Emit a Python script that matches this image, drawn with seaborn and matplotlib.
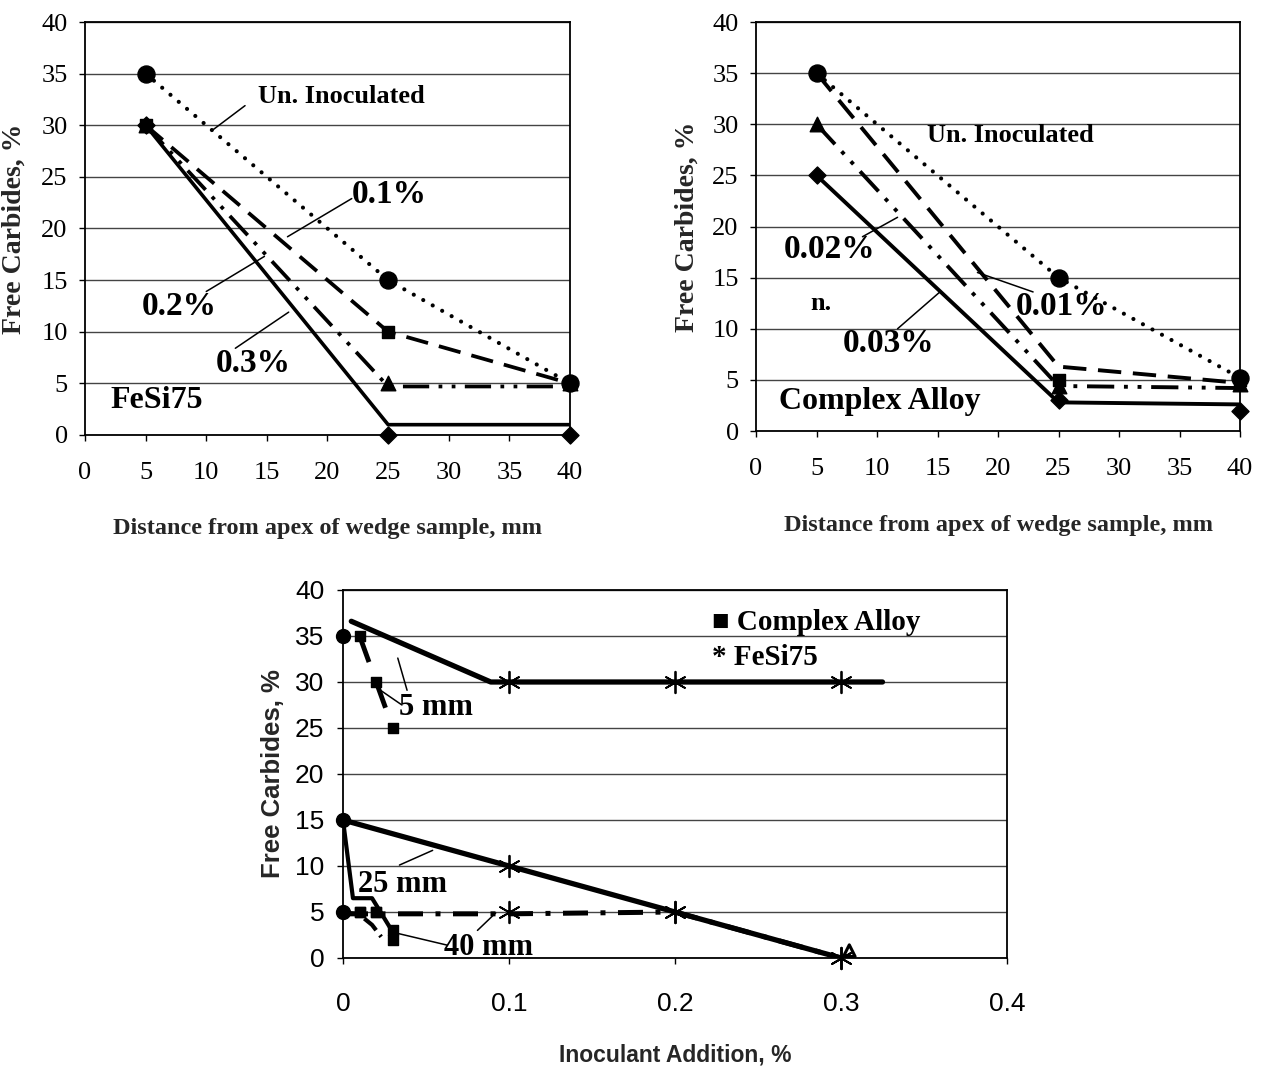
#!/usr/bin/env python3
# Free carbides vs wedge distance / inoculant addition (FeSi75 and Complex Alloy)

import matplotlib
matplotlib.use("Agg")
import matplotlib.pyplot as plt
from matplotlib import font_manager
import seaborn as sns

#---------------------------------------------------------
# DATA
#---------------------------------------------------------
dist_mm = [5, 25, 40]
dist_ticks = list(range(0, 41, 5))
carb_ticks = list(range(0, 41, 5))

# FeSi75 panel (markers / drawn lines)
fesi_uninoc = [35, 15, 5]
fesi_01 = [30, 10, 5]
fesi_02 = [30, 5, 5]
fesi_02_line = [30, 4.7, 4.7]
fesi_03 = [30, 0, 0]
fesi_03_line = [30, 1, 1]

# Complex Alloy panel
cx_uninoc = [35, 15, 5.2]
cx_001 = [35, 5, 5]
cx_001_line = [35, 6.3, 4.7]
cx_002 = [30, 4.4, 4.6]
cx_002_line = [30, 4.4, 4.2]
cx_003 = [25, 3, 2]
cx_003_line = [25, 2.8, 2.6]

# lower panel: carbides vs addition
add_ticks = [0, 0.1, 0.2, 0.3, 0.4]
add_zero = [0, 0, 0]
uninoc_by_dist = [35, 15, 5]
add_cx = [0.01, 0.02, 0.03]
cx_5mm = [35, 30, 25]
cx_25mm = [5, 5, 3]
cx_40mm = [5, 5, 2]
add_fesi = [0.1, 0.2, 0.3]
fesi_5mm = [30, 30, 30]
fesi_25mm = [10, 5, 0]
fesi_40mm = [5, 5, 0]

# curves as drawn in the lower panel
trend5_x = [0.005, 0.089, 0.325]
trend5_y = [36.6, 30, 30]
cx5_x = [0.01, 0.02, 0.03]
cx5_y = [35, 30, 25]
fesi25_x = [0, 0.1, 0.2, 0.3]
fesi25_y = [15, 10, 5, 0]
cx25_x = [0, 0.006, 0.0175, 0.028]
cx25_y = [15, 6.5, 6.5, 3.4]
fesi40_x = [0, 0.1, 0.2, 0.3]
fesi40_y = [4.8, 4.8, 5, 0]
cx40_x = [0, 0.01, 0.0175, 0.023]
cx40_y = [5, 4.7, 3.6, 2.3]
stray_x = [0.305]
stray_y = [0.8]

#---------------------------------------------------------
# STYLE
#---------------------------------------------------------
sns.set_theme(style="white")
SERIF = ["Liberation Serif", "DejaVu Serif"]
names = {f.name for f in font_manager.fontManager.ttflist}
NARROW = "Liberation Sans Narrow" if "Liberation Sans Narrow" in names else "Liberation Sans"
plt.rcParams["font.family"] = SERIF

DOTTED = (0, (0.01, 2.6))
DASHED = (0, (6, 3))
DASHDOTDOT = (0, (7, 2.5, 1, 2.5, 1, 2.5))


def line(ax, x, y, ls="-", lw=2.2, **kw):
    sns.lineplot(x=x, y=y, ax=ax, color="black", linestyle=ls, linewidth=lw,
                 estimator=None, sort=False, legend=False, **kw)


def marks(ax, x, y, marker, s, **kw):
    kw.setdefault("linewidth", 1)
    sns.scatterplot(x=x, y=y, ax=ax, marker=marker, s=s, color="black",
                    edgecolor="black", legend=False, clip_on=False, zorder=5, **kw)


def leader(ax, start, end):
    ax.annotate("", xy=end, xytext=start,
                arrowprops=dict(arrowstyle="-", lw=1.1, color="black",
                                shrinkA=0, shrinkB=0))


def label(ax, x, y, txt, size, family=SERIF):
    ax.text(x, y, txt, fontsize=size, fontweight="bold", family=family,
            ha="left", va="baseline", color="black")


def frame(ax, xticks, xlabels, family, xpad, ypad):
    ax.set_xlim(xticks[0], xticks[-1])
    ax.set_ylim(0, 40)
    ax.set_xticks(xticks)
    ax.set_xticklabels(xlabels)
    ax.set_yticks(carb_ticks)
    ax.set_yticklabels([str(v) for v in carb_ticks])
    ax.grid(axis="y", color="#444444", linewidth=1)
    ax.grid(axis="x", visible=False)
    ax.set_axisbelow(True)
    for sp in ax.spines.values():
        sp.set_visible(True)
        sp.set_color("black")
        sp.set_linewidth(1.3)
    ax.tick_params(direction="out", length=4.5, width=1, colors="black",
                   labelsize=19, labelfontfamily=family,
                   bottom=True, left=True)
    ax.tick_params(axis="x", pad=xpad)
    ax.tick_params(axis="y", pad=ypad)
    ax.set_xlabel("")
    ax.set_ylabel("")


fig = plt.figure(figsize=(12.62, 10.68), dpi=100)

#---------------------------------------------------------
# TOP LEFT: FeSi75
#---------------------------------------------------------
ax1 = fig.add_axes([0.06735, 0.59270, 0.38431, 0.38670])
line(ax1, dist_mm, fesi_uninoc, DOTTED, 3.0, dash_capstyle="round")
line(ax1, dist_mm, fesi_01, DASHED, 2.7)
line(ax1, dist_mm, fesi_02_line, DASHDOTDOT, 2.7)
line(ax1, dist_mm, fesi_03_line, "-", 2.6)
marks(ax1, dist_mm, fesi_uninoc, "o", 150)
marks(ax1, dist_mm, fesi_01, "s", 75)
marks(ax1, dist_mm, fesi_02, "^", 110)
marks(ax1, dist_mm, fesi_03, "D", 75)
frame(ax1, dist_ticks, [str(v) for v in dist_ticks], SERIF, 15, 8)

label(ax1, 14.3, 32.2, "Un. Inoculated", 19)
leader(ax1, (13.2, 31.9), (10.6, 29.6))
label(ax1, 22.0, 22.5, "0.1%", 24)
leader(ax1, (22.0, 22.9), (16.7, 19.2))
label(ax1, 4.7, 11.6, "0.2%", 24)
leader(ax1, (10.0, 13.9), (14.8, 17.3))
label(ax1, 10.8, 6.1, "0.3%", 24)
leader(ax1, (12.4, 8.4), (16.8, 11.9))
label(ax1, 2.1, 2.6, "FeSi75", 23)

ax1.set_ylabel("Free Carbides, %", fontsize=20, fontweight="bold", family=SERIF)
ax1.yaxis.set_label_coords(-0.12, 0.5)
ax1.set_xlabel("Distance from apex of wedge sample, mm", fontsize=17.5,
               fontweight="bold", family=SERIF)
ax1.xaxis.set_label_coords(0.5, -0.2)

#---------------------------------------------------------
# TOP RIGHT: Complex Alloy
#---------------------------------------------------------
ax2 = fig.add_axes([0.59905, 0.59644, 0.38352, 0.38296])
line(ax2, dist_mm, cx_uninoc, DOTTED, 3.0, dash_capstyle="round")
line(ax2, dist_mm, cx_001_line, DASHED, 2.8)
line(ax2, dist_mm, cx_002_line, DASHDOTDOT, 2.8)
line(ax2, dist_mm, cx_003_line, "-", 2.8)
marks(ax2, dist_mm, cx_001, "s", 75)
marks(ax2, dist_mm, cx_002, "^", 110)
marks(ax2, dist_mm, cx_003, "D", 75)
marks(ax2, dist_mm, cx_uninoc, "o", 150)
frame(ax2, dist_ticks, [str(v) for v in dist_ticks], SERIF, 15, 8)

label(ax2, 14.1, 28.3, "Un. Inoculated", 19)
label(ax2, 2.3, 16.9, "0.02%", 24)
leader(ax2, (8.8, 19.0), (11.7, 20.9))
label(ax2, 21.5, 11.3, "0.01%", 24)
leader(ax2, (22.9, 13.6), (18.3, 15.5))
label(ax2, 4.5, 11.8, "n.", 19)
label(ax2, 7.2, 7.7, "0.03%", 24)
leader(ax2, (11.7, 10.0), (15.2, 13.6))
label(ax2, 1.9, 2.2, "Complex Alloy", 23)

ax2.set_ylabel("Free Carbides, %", fontsize=20, fontweight="bold", family=SERIF)
ax2.yaxis.set_label_coords(-0.116, 0.5)
ax2.set_xlabel("Distance from apex of wedge sample, mm", fontsize=17.5,
               fontweight="bold", family=SERIF)
ax2.xaxis.set_label_coords(0.5, -0.205)

#---------------------------------------------------------
# BOTTOM: carbides vs inoculant addition
#---------------------------------------------------------
ax3 = fig.add_axes([0.27179, 0.10300, 0.52615, 0.34457])
line(ax3, trend5_x, trend5_y, "-", 3.8)
line(ax3, cx5_x, cx5_y, (0, (5.7, 4.3)), 3.5)
line(ax3, fesi25_x, fesi25_y, "-", 3.8)
line(ax3, cx25_x, cx25_y, "-", 3.0)
line(ax3, fesi40_x, fesi40_y, (0, (5, 2.5, 1, 2.5)), 3.6)
line(ax3, cx40_x, cx40_y, (0, (4, 1.5)), 3.0)
marks(ax3, add_zero, uninoc_by_dist, "o", 100)
marks(ax3, add_cx, cx_5mm, "s", 50)
marks(ax3, add_cx, cx_25mm, "s", 50)
marks(ax3, add_cx, cx_40mm, "s", 50)
marks(ax3, add_fesi, fesi_5mm, (6, 2, 0), 240, linewidth=1.3)
marks(ax3, add_fesi, fesi_25mm, (6, 2, 0), 240, linewidth=1.3)
marks(ax3, add_fesi, fesi_40mm, (6, 2, 0), 240, linewidth=1.3)
sns.scatterplot(x=stray_x, y=stray_y, ax=ax3, marker="^", s=70,
                facecolor="none", edgecolor="black", linewidth=2.2,
                legend=False, clip_on=False, zorder=5)
frame(ax3, add_ticks, [f"{v:g}" for v in add_ticks], NARROW, 20, 9)

label(ax3, 0.222, 35.7, "\u25a0 Complex Alloy", 21)
label(ax3, 0.222, 31.8, "* FeSi75", 21)
label(ax3, 0.034, 26.4, "5 mm", 22)
leader(ax3, (0.0386, 29.1), (0.033, 32.6))
leader(ax3, (0.0355, 27.5), (0.021, 29.3))
label(ax3, 0.009, 7.2, "25 mm", 22)
leader(ax3, (0.034, 10.1), (0.054, 11.7))
label(ax3, 0.061, 0.3, "40 mm", 22)
leader(ax3, (0.0627, 1.4), (0.030, 2.8))
leader(ax3, (0.081, 3.0), (0.092, 4.9))

ax3.set_ylabel("Free Carbides, %", fontsize=18.5, fontweight="bold",
               family=["Liberation Sans", "DejaVu Sans"])
ax3.yaxis.set_label_coords(-0.087, 0.5)
ax3.set_xlabel("Inoculant Addition, %", fontsize=16.5, fontweight="bold",
               family=[NARROW, "DejaVu Sans"])
ax3.xaxis.set_label_coords(0.5, -0.231)

fig.savefig("out.png", dpi=100)
